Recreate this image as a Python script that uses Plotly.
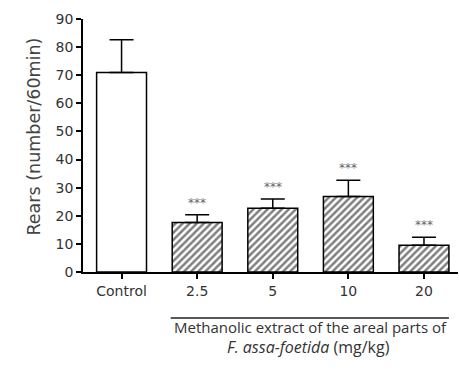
import plotly.graph_objects as go

categories = ["Control", "2.5", "5", "10", "20"]
means = [71.0, 17.6, 22.7, 26.9, 9.5]
sem = [11.6, 2.8, 3.3, 5.7, 2.9]
sig = ["", "***", "***", "***", "***"]
patterns = ["", "/", "/", "/", "/"]

idx = list(range(len(categories)))

fig = go.Figure()
fig.add_trace(go.Bar(
    x=idx, y=means, width=0.66,
    marker=dict(color="white", line=dict(color="black", width=1.5),
                pattern=dict(shape=patterns, fgcolor="black", bgcolor="white",
                             size=5, solidity=0.5)),
    error_y=dict(type="data", array=sem, arrayminus=[0] * len(sem),
                 symmetric=False, color="black", thickness=1.5, width=12),
    showlegend=False,
))

for i, (m, s, t) in enumerate(zip(means, sem, sig)):
    if t:
        fig.add_annotation(x=i, y=m + s, text=t, showarrow=False, yanchor="bottom",
                           yshift=3, font=dict(family="DejaVu Sans", size=12, color="#666666"))

# bracket under the extract doses
fig.add_shape(type="line", xref="x", yref="paper", x0=1 - 0.35, x1=4 + 0.33,
              y0=-0.182, y1=-0.182, line=dict(color="#222", width=1.5))
fig.add_annotation(xref="x", yref="paper", x=2.5, y=-0.263, showarrow=False,
                   text="Methanolic extract of the areal parts of",
                   font=dict(family="Open Sans", size=15, color="#333"))
fig.add_annotation(xref="x", yref="paper", x=2.47, y=-0.347, showarrow=False,
                   text="<i>F. assa-foetida</i> (mg/kg)",
                   font=dict(family="Open Sans", size=16, color="#333"))
# y-axis title
fig.add_annotation(xref="paper", yref="paper", x=-0.163, y=0.535, showarrow=False,
                   text="Rears (number/60min)", textangle=-90,
                   font=dict(family="DejaVu Sans", size=17.5, color="#444"))

fig.update_layout(
    width=459, height=376,
    margin=dict(l=83, r=1, t=19, b=104),
    plot_bgcolor="white", paper_bgcolor="white",
    font=dict(family="DejaVu Sans", size=14, color="#333"),
    yaxis=dict(range=[0, 90], dtick=10, ticks="outside", ticklen=5, tickwidth=1.5,
               tickcolor="black", showline=True, linecolor="black", linewidth=1.5,
               showgrid=False, zeroline=False, ticklabelstandoff=0, automargin=False),
    xaxis=dict(range=[-0.51, 4.45], tickmode="array", tickvals=idx, ticktext=categories,
               ticks="outside", ticklen=5, tickwidth=1.5, tickcolor="black",
               showline=True, linecolor="black", linewidth=1.5, showgrid=False,
               zeroline=False, automargin=False),
)

fig.write_html("out.html", config={"displayModeBar": False},
               post_script="document.body.style.margin='0';")
